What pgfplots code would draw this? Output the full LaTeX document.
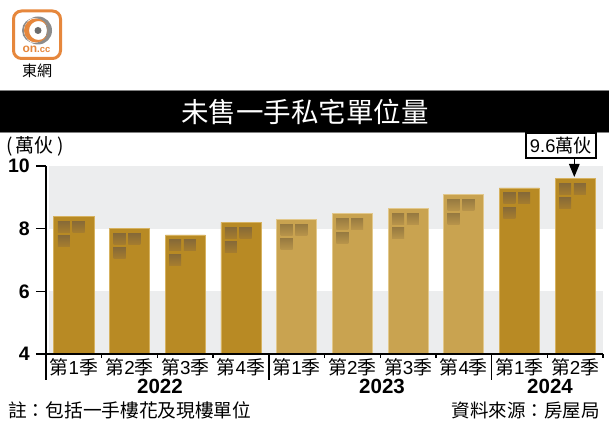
\documentclass[border=0pt]{standalone}
\usepackage{fontspec}
\usepackage{pgfplots}
\usepackage{pgfplotstable}
\usetikzlibrary{arrows.meta}
\pgfplotsset{compat=1.18}
\setmainfont{Liberation Sans}
\newfontfamily\cjk{Noto Sans CJK TC}
\definecolor{bardark}{RGB}{184,138,36}
\definecolor{barlight}{RGB}{201,163,80}
\definecolor{edgedark}{RGB}{214,178,96}
\definecolor{edgelight}{RGB}{226,200,140}
\definecolor{band}{RGB}{236,237,238}
\definecolor{logoor}{RGB}{230,135,60}
\definecolor{logogr}{RGB}{140,140,140}
% window squares on the bars, darker at the top
\pgfdeclareverticalshading{windark}{12pt}{rgb(0pt)=(.65,.49,.18); rgb(12pt)=(.52,.41,.22)}
\pgfdeclareverticalshading{winlight}{12pt}{rgb(0pt)=(.72,.58,.29); rgb(12pt)=(.58,.47,.25)}
\pgfdeclareplotmark{windark}{\pgftext{\pgfuseshading{windark}}}
\pgfdeclareplotmark{winlight}{\pgftext{\pgfuseshading{winlight}}}
\newcommand\fs[1]{\fontsize{#1}{#1}\selectfont}
\newcommand\q[1]{{\cjk 第}#1{\cjk 季}}
\newcommand\winds[2]{%
  \addplot[only marks, mark=#2] table[x expr=\thisrow{x}-0.18, y expr=\thisrow{v}-0.32] {#1};
  \addplot[only marks, mark=#2] table[x expr=\thisrow{x}+0.085, y expr=\thisrow{v}-0.32] {#1};
  \addplot[only marks, mark=#2] table[x expr=\thisrow{x}-0.18, y expr=\thisrow{v}-0.77] {#1};
}
\pgfplotstableread{
x v
0 8.4
1 8.0
2 7.8
3 8.2
8 9.3
9 9.6
}\darkbars
\pgfplotstableread{
x v
4 8.3
5 8.5
6 8.65
7 9.1
}\lightbars
\begin{document}
\begin{tikzpicture}[x=1pt,y=1pt]
\path[use as bounding box] (0,0) rectangle (609,425);
% title strip
\fill[black] (0,293) rectangle (609,335);
\draw[gray,line width=.6pt] (0,335) -- (609,335) (0,293) -- (609,293);
\node[white,font=\cjk\fs{27.5}] at (305,313) {未售一手私宅單位量};
\begin{axis}[
    at={(46pt,71pt)}, anchor=south west,
    scale only axis, width=557pt, height=188pt,
    xmin=-0.5, xmax=9.5, ymin=4, ymax=10,
    clip mode=individual, axis on top,
    axis lines*=left,
    axis line style={line width=1.3pt},
    tick style={black,line width=1.3pt},
    tick align=outside,
    major tick length=10pt,
    ytick={4,6,8,10},
    /pgf/number format/assume math mode=true,
    yticklabel style={font=\fs{19.5}\bfseries, inner sep=0pt, xshift=-6pt},
    xtick={0,...,9},
    xticklabels={\q1,\q2,\q3,\q4,\q1,\q2,\q3,\q4,\q1,\q2},
    major x tick style={draw=none},
    xticklabel style={font=\fs{18.8}, inner sep=0pt, yshift=6pt},
]
\addplot[fill=band,draw=none] coordinates {(-0.44,8) (9.5,8) (9.5,10) (-0.44,10)} -- cycle;
\addplot[fill=band,draw=none] coordinates {(-0.44,4) (9.5,4) (9.5,6) (-0.44,6)} -- cycle;
\addplot[ybar, bar width=40pt, bar shift=0pt, fill=bardark, draw=edgedark, line width=.7pt] table[x=x,y=v] {\darkbars};
\addplot[ybar, bar width=40pt, bar shift=0pt, fill=barlight, draw=edgelight, line width=.7pt] table[x=x,y=v] {\lightbars};
\winds{\darkbars}{windark}
\winds{\lightbars}{winlight}
\end{axis}
% quarter stubs and year separators below the axis
\foreach \k in {1,2,3,5,6,7,9,10}
  \draw[line width=1.3pt] (46+55.7*\k,71) -- (46+55.7*\k,66.5);
\draw[line width=1.3pt] (46,71) -- (46,45) (269,71) -- (269,45) (491.7,71) -- (491.7,45);
\node[font=\fs{20.5}\bfseries] at (160,39) {2022};
\node[font=\fs{20.5}\bfseries] at (382,39) {2023};
\node[font=\fs{20.5}\bfseries] at (550,39) {2024};
% unit, callout
\node[font=\cjk\fs{19},inner sep=0pt] at (35,279) {(\,萬伙\,)};
\draw[-{Triangle[length=13pt,width=10.5pt]},line width=1.3pt] (574.3,267) -- (574.3,248);
\node[draw=black,fill=white,line width=1.2pt,minimum width=70pt,minimum height=25pt,inner sep=0pt,font=\fs{18.3}] at (561,279.5) {9.6{\cjk 萬伙}};
% notes
\node[anchor=west,inner sep=0pt,font=\cjk\fs{18.7}] at (8,15) {註：包括一手樓花及現樓單位};
\node[anchor=east,inner sep=0pt,font=\cjk\fs{18.5}] at (600,15) {資料來源：房屋局};
% logo
\draw[logoor,line width=3pt,rounded corners=8pt,fill=white] (13.5,366.5) rectangle (60.5,414);
\fill[logogr,even odd rule] (38,394.5) circle (14) (34.5,394.5) circle (12.5);
\fill[logoor,even odd rule] (36,394.5) circle (12) (38.5,394.5) circle (9.5);
\fill[gray!85!black] (38,394.5) circle (3.5);
\node[text=logoor,font=\bfseries,inner sep=0pt] at (36.5,375.5) {\fs{12}on\fs{9.5}.cc};
\node[font=\cjk\fs{15},inner sep=0pt] at (37,354) {東網};
\end{tikzpicture}
\end{document}
